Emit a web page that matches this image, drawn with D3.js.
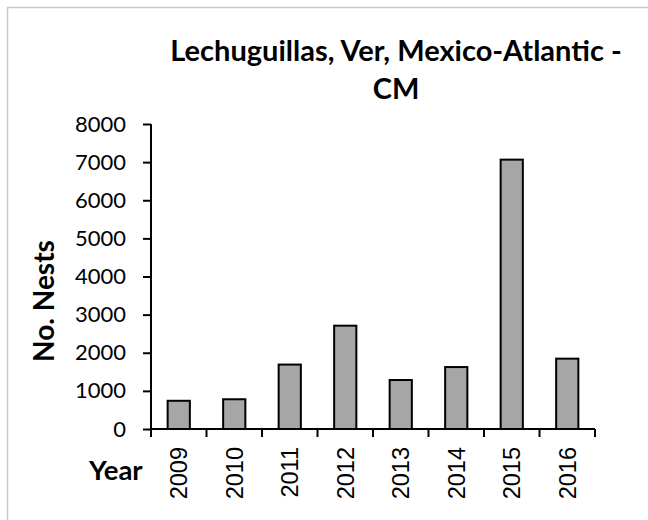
<!DOCTYPE html>
<html>
<head>
<meta charset="utf-8">
<script src="https://cdn.jsdelivr.net/npm/d3@7"></script>
<style>
  html, body { margin: 0; padding: 0; background: #fff; }
  svg { display: block; }
</style>
</head>
<body>
<svg id="chart" width="648" height="520"></svg>
<script>
const years = ["2009", "2010", "2011", "2012", "2013", "2014", "2015", "2016"];
const nests = [740, 780, 1690, 2710, 1285, 1625, 7065, 1845];
const yTicks = [0, 1000, 2000, 3000, 4000, 5000, 6000, 7000, 8000];
const titleLines = ["Lechuguillas, Ver, Mexico-Atlantic -", "CM"];
const yTitle = "No. Nests";
const xTitle = "Year";

const svg = d3.select("#chart");

// chart-area border (extends beyond the visible frame)
svg.append("rect")
  .attr("x", 7.5).attr("y", 7.5)
  .attr("width", 1000).attr("height", 1000)
  .attr("fill", "#fff")
  .attr("stroke", "#c8c8c8")
  .attr("stroke-width", 1.5);

const plot = { left: 151, right: 595, top: 124, bottom: 429 };

const x = d3.scaleBand()
  .domain(years)
  .range([plot.left, plot.right])
  .paddingInner(0.6)
  .paddingOuter(0.3);

const y = d3.scaleLinear()
  .domain([0, 8000])
  .range([plot.bottom, plot.top]);

// bars
svg.append("g")
  .selectAll("rect")
  .data(years.map((yr, i) => ({ yr, v: nests[i] })))
  .join("rect")
  .attr("x", d => x(d.yr))
  .attr("y", d => y(d.v))
  .attr("width", x.bandwidth())
  .attr("height", d => y(0) - y(d.v))
  .attr("fill", "#a6a6a6")
  .attr("stroke", "#000")
  .attr("stroke-width", 2);

// y axis
const yAxis = svg.append("g")
  .attr("transform", `translate(${plot.left},0)`)
  .call(d3.axisLeft(y).tickValues(yTicks).tickFormat(d3.format("d")).tickSize(8).tickPadding(17));
yAxis.select(".domain").attr("stroke", "#000").attr("stroke-width", 2)
  .attr("d", `M0,${plot.top}V${plot.bottom}`);
yAxis.selectAll(".tick line").attr("stroke", "#000").attr("stroke-width", 2);
yAxis.selectAll(".tick text")
  .attr("font-family", "Lato, 'Open Sans', sans-serif")
  .attr("font-size", 22)
  .attr("fill", "#000");

// x axis: ticks at category boundaries
const step = x.step();
const boundaries = d3.range(years.length + 1).map(i => plot.left + i * step);
const xAxisG = svg.append("g");
xAxisG.append("line")
  .attr("x1", plot.left - 1).attr("x2", plot.right)
  .attr("y1", plot.bottom).attr("y2", plot.bottom)
  .attr("stroke", "#000").attr("stroke-width", 2);
xAxisG.selectAll("line.tk")
  .data(boundaries)
  .join("line")
  .attr("class", "tk")
  .attr("x1", d => d).attr("x2", d => d)
  .attr("y1", plot.bottom).attr("y2", plot.bottom + 8)
  .attr("stroke", "#000").attr("stroke-width", 2);

xAxisG.selectAll("text.yr")
  .data(years)
  .join("text")
  .attr("class", "yr")
  .attr("transform", d => `translate(${x(d) + x.bandwidth() / 2 + 8.5},447) rotate(-90)`)
  .attr("text-anchor", "end")
  .attr("font-family", "'Liberation Sans', Arial, sans-serif")
  .attr("font-size", 23.5)
  .attr("fill", "#000")
  .text(d => d);

// title
svg.append("g")
  .selectAll("text")
  .data(titleLines)
  .join("text")
  .attr("x", 396)
  .attr("y", (d, i) => 61 + i * 38)
  .attr("text-anchor", "middle")
  .attr("font-family", "Lato, 'Open Sans', sans-serif")
  .attr("font-weight", "bold")
  .attr("font-size", 29)
  .attr("fill", "#000")
  .text(d => d);

// y title
svg.append("text")
  .attr("transform", "translate(54,301) rotate(-90)")
  .attr("text-anchor", "middle")
  .attr("font-family", "Lato, 'Open Sans', sans-serif")
  .attr("font-weight", "bold")
  .attr("font-size", 28)
  .attr("fill", "#000")
  .text(yTitle);

// x title
svg.append("text")
  .attr("x", 89)
  .attr("y", 480)
  .attr("font-family", "Lato, 'Open Sans', sans-serif")
  .attr("font-weight", "bold")
  .attr("font-size", 27.5)
  .attr("fill", "#000")
  .text(xTitle);
</script>
</body>
</html>
